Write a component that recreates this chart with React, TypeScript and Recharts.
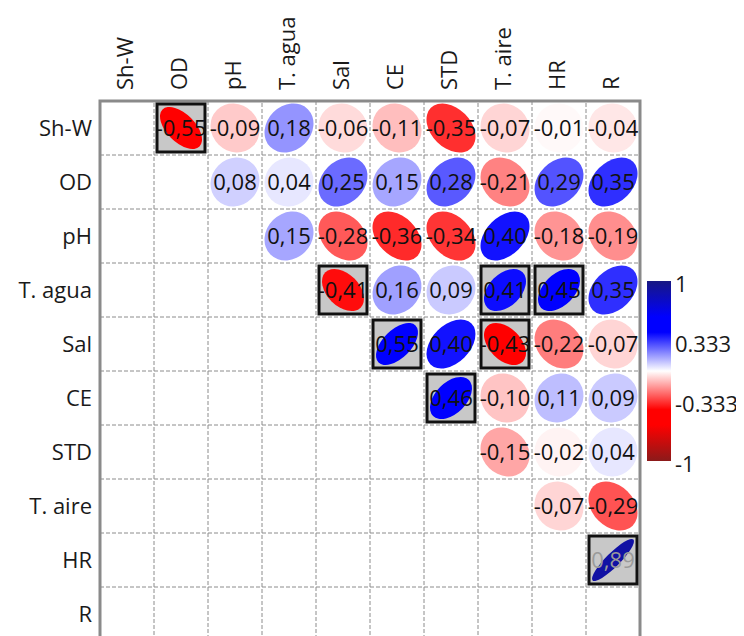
import React from 'react';
import { ScatterChart, Scatter, XAxis, YAxis, CartesianGrid, ReferenceArea, Legend } from 'recharts';

// ---------- data ----------
const variables = ['Sh-W', 'OD', 'pH', 'T. agua', 'Sal', 'CE', 'STD', 'T. aire', 'HR', 'R'];
// upper triangle: each row lists correlations with the variables after it
const corrShW = [-0.55, -0.09, 0.18, -0.06, -0.11, -0.35, -0.07, -0.01, -0.04];
const corrOD = [0.08, 0.04, 0.25, 0.15, 0.28, -0.21, 0.29, 0.35];
const corrPH = [0.15, -0.28, -0.36, -0.34, 0.4, -0.18, -0.19];
const corrTAgua = [-0.41, 0.16, 0.09, 0.41, 0.45, 0.35];
const corrSal = [0.55, 0.4, -0.43, -0.22, -0.07];
const corrCE = [0.46, -0.1, 0.11, 0.09];
const corrSTD = [-0.15, -0.02, 0.04];
const corrTAire = [-0.07, -0.29];
const corrHR = [0.89];
const corrR: number[] = [];
const corrRows = [corrShW, corrOD, corrPH, corrTAgua, corrSal, corrCE, corrSTD, corrTAire, corrHR, corrR];
const significantPairs = [
  ['Sh-W', 'OD'],
  ['T. agua', 'Sal'],
  ['T. agua', 'T. aire'],
  ['T. agua', 'HR'],
  ['Sal', 'CE'],
  ['Sal', 'T. aire'],
  ['CE', 'STD'],
  ['HR', 'R'],
];
const colorbarTicks = [1, 0.333, -0.333, -1];

// ---------- derived ----------
const labelTicks = variables.map((_, i) => i + 0.5);
const gridTicks = variables.map((_, i) => i).concat(variables.length);
// column strips whose outlines give the vertical dashed grid lines
const oddColumns = variables.map((_, i) => i).filter((i) => i % 2 === 1);
const cells = corrRows.flatMap((vals, i) =>
  vals.map((v, k) => {
    const j = i + 1 + k;
    return {
      x: j + 0.5,
      y: i + 0.5,
      r: v,
      sig: significantPairs.some(([a, b]) => a === variables[i] && b === variables[j]),
    };
  })
);

// ---------- style ----------
const FONT = "'Open Sans', 'Noto Sans', sans-serif";
const CELL = 54;
const WHITE = [255, 255, 255];
const BLUE = [0, 0, 255];
const NAVY = [24, 24, 130];
const RED = [255, 0, 0];
const DARKRED = [139, 26, 26];

const mix = (a: number[], b: number[], t: number) => {
  const c = a.map((av, i) => Math.round(av + (b[i] - av) * Math.max(0, Math.min(1, t))));
  return `rgb(${c[0]},${c[1]},${c[2]})`;
};
const corrColor = (v: number) => {
  const a = Math.abs(v);
  const full = v >= 0 ? BLUE : RED;
  const dark = v >= 0 ? NAVY : DARKRED;
  if (a <= 0.43) return mix(WHITE, full, a / 0.43);
  if (a <= 0.6) return mix(full, full, 0);
  return mix(full, dark, (a - 0.6) / 0.4);
};
const fmt = (v: number) => v.toFixed(2).replace('.', ',');

const CorrCell = (props: any) => {
  const { cx, cy, payload } = props;
  if (cx == null || cy == null) return null;
  const { r, sig } = payload;
  const s = sig ? 21 : 24.5;
  const a = Math.abs(r);
  const rx = s * Math.sqrt(1 + a);
  const ry = s * Math.sqrt(1 - a);
  const angle = r >= 0 ? -45 : 45;
  const box = CELL - 6;
  return (
    <g>
      {sig && <rect x={cx - box / 2} y={cy - box / 2} width={box} height={box} fill="#c8c8c8" />}
      <ellipse cx={cx} cy={cy} rx={rx} ry={ry} fill={corrColor(r)} transform={`rotate(${angle} ${cx} ${cy})`} />
      <text x={cx} y={cy + 8} textAnchor="middle" fontSize={22} fontFamily={FONT} fill={a > 0.8 ? '#9a9a9a' : '#111'}>
        {fmt(r)}
      </text>
      {sig && (
        <rect x={cx - box / 2} y={cy - box / 2} width={box} height={box} fill="none" stroke="#111" strokeWidth={3} />
      )}
    </g>
  );
};

const ColTick = (props: any) => {
  const { x, y, payload } = props;
  return (
    <text
      transform={`translate(${x - 2},${y - 3}) rotate(-90)`}
      textAnchor="start"
      dy="0.35em"
      fontSize={22}
      fontFamily={FONT}
      fill="#1a1a1a"
    >
      {variables[Math.floor(payload.value)]}
    </text>
  );
};

const ColorBar = () => {
  const barX = 7;
  const barTop = 16;
  const barW = 24;
  const barH = 180;
  const yOf = (v: number) => barTop + ((1 - v) / 2) * barH;
  const stopVals = [1, 0.6, 0.43, 0, -0.43, -0.6, -1];
  return (
    <svg width={102} height={220} style={{ display: 'block' }}>
      <defs>
        <linearGradient id="cbarGrad" x1="0" y1="0" x2="0" y2="1">
          {stopVals.map((v) => (
            <stop key={v} offset={`${((1 - v) / 2) * 100}%`} stopColor={corrColor(v)} />
          ))}
        </linearGradient>
      </defs>
      <rect x={barX} y={barTop} width={barW} height={barH} fill="url(#cbarGrad)" />
      {colorbarTicks.map((t) => (
        <text key={t} x={35} y={yOf(t) + 3} dy="0.35em" fontSize={22} fontFamily={FONT} fill="#1a1a1a">
          {String(t)}
        </text>
      ))}
    </svg>
  );
};

export default function App() {
  return (
    <div>
      <style>{'html,body{overflow:hidden}'}</style>
      <ScatterChart width={736} height={640} margin={{ top: 0, right: 104, bottom: 7, left: 0 }} style={{ fontFamily: FONT }}>
        <XAxis
          xAxisId="cols"
          dataKey="x"
          type="number"
          orientation="top"
          domain={[0, 10]}
          ticks={labelTicks}
          allowDataOverflow
          height={93}
          axisLine={false}
          tickLine={false}
          interval={0}
          tick={<ColTick />}
        />
        <YAxis
          yAxisId="rows"
          dataKey="y"
          type="number"
          domain={[0, 10]}
          ticks={labelTicks}
          allowDataOverflow
          reversed
          width={92}
          axisLine={false}
          tickLine={false}
          interval={0}
          tickFormatter={(v: number) => variables[Math.floor(v)]}
          tick={{ fontSize: 22, fill: '#1a1a1a', fontFamily: FONT }}
        />
        <CartesianGrid
          xAxisId="cols"
          yAxisId="rows"
          stroke="#8c8c8c"
          strokeDasharray="4 2"
          vertical={false}
          horizontalValues={gridTicks}
        />
        {oddColumns.map((c) => (
          <ReferenceArea
            key={`col${c}`}
            xAxisId="cols"
            yAxisId="rows"
            x1={c}
            x2={c + 1}
            y1={0}
            y2={variables.length}
            fill="none"
            stroke="#8c8c8c"
            strokeDasharray="4 2"
            ifOverflow="visible"
          />
        ))}
        <ReferenceArea
          xAxisId="cols"
          yAxisId="rows"
          x1={0}
          x2={10}
          y1={0}
          y2={10}
          fill="none"
          stroke="#8a8a8a"
          strokeWidth={3}
          ifOverflow="visible"
        />
        <Scatter xAxisId="cols" yAxisId="rows" data={cells} shape={<CorrCell />} isAnimationActive={false} />
        <Legend
          content={<ColorBar />}
          layout="horizontal"
          verticalAlign="middle"
          align="center"
          wrapperStyle={{ left: 632, top: 257, width: 102, height: 220, margin: 0, padding: 0 }}
        />
      </ScatterChart>
    </div>
  );
}
